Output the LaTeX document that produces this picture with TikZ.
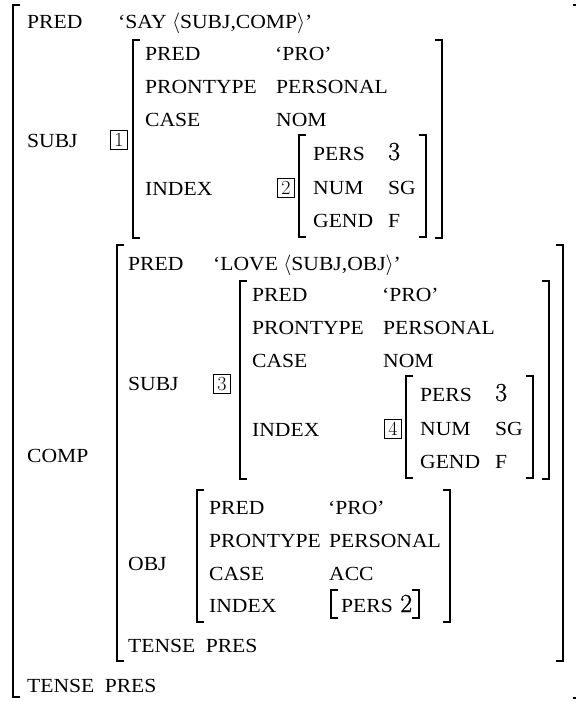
\documentclass[tikz,border=0pt]{standalone}
\usepackage{fontspec}
\newfontfamily\labfont[FakeStretch=1.08]{Liberation Serif}
\newfontfamily\digfont[FakeBold=0.8]{Latin Modern Roman}
\begin{document}
\begin{tikzpicture}[x=1pt,y=-1pt,
  lab/.style={anchor=base west, inner sep=0pt, font=\labfont\fontsize{20}{24}\selectfont},
  dig/.style={anchor=base west, inner sep=0pt, font=\digfont\fontsize{26}{28}\selectfont},
  numbox/.style={draw, line width=0.7pt, inner sep=0pt, minimum width=17pt, minimum height=19pt, font=\fontsize{20}{20}\selectfont},
  brk/.style={line width=1.8pt, line join=miter},
  sbrk/.style={line width=1.2pt, line join=miter}]
\useasboundingbox (0,0) rectangle (576,702);
\newcommand\avmL[4][brk]{\draw[#1] ({#2+7},#3) -- (#2,#3) -- (#2,#4) -- ({#2+7},#4);}
\newcommand\avmR[4][brk]{\draw[#1] ({#2-7},#3) -- (#2,#3) -- (#2,#4) -- ({#2-7},#4);}
% subject block (relative coordinates of the first one)
\newcommand\subjblock[2]{%
  \avmL{133}{40}{238}\avmR{442}{40}{238}
  \node[lab] (#1pred) at (145,60) {PRED};
  \node[lab] (#1predv) at (275,60) {‘PRO’};
  \node[lab] (#1pt) at (145,93) {PRONTYPE};
  \node[lab] (#1ptv) at (276,93) {PERSONAL};
  \node[lab] (#1case) at (145,126) {CASE};
  \node[lab] (#1casev) at (276,126) {NOM};
  \node[lab] (#1index) at (145,195) {INDEX};
  \node[numbox] (#1box) at (286,188) {#2};
  \avmL{299}{135}{237}\avmR{426}{135}{237}
  \node[lab] (#1pers) at (313,160) {PERS};
  \node[dig] (#1persv) at (388,160) {3};
  \node[lab] (#1num) at (313,194) {NUM};
  \node[lab] (#1numv) at (388,194) {SG};
  \node[lab] (#1gend) at (313,227) {GEND};
  \node[lab] (#1gendv) at (388,227) {F};
}
% outer matrix
\avmL{13}{5}{697}\avmR{580}{5}{698}
\node[lab] (opred) at (27,28) {PRED};
\node[lab] (opredv) at (118,28) {‘SAY $\langle$SUBJ,COMP$\rangle$’};
\node[lab] (osubj) at (27,147) {SUBJ};
\node[numbox] (b1) at (119,140) {1};
\subjblock{sa}{2}
\node[lab] (ocomp) at (27,462) {COMP};
% comp matrix
\avmL{117}{245}{661}\avmR{563}{245}{661}
\node[lab] (cpred) at (128,270) {PRED};
\node[lab] (cpredv) at (213,270) {‘LOVE $\langle$SUBJ,OBJ$\rangle$’};
\node[lab] (csubj) at (128,390) {SUBJ};
\node[numbox] (b3) at (222,384) {3};
\begin{scope}[shift={(107,241)}]
\subjblock{sb}{4}
\end{scope}
\node[lab] (cobj) at (128,570) {OBJ};
\avmL{197}{490}{622}\avmR{450}{490}{622}
\node[lab] (opr) at (209,514) {PRED};
\node[lab] (oprv) at (328,514) {‘PRO’};
\node[lab] (opt) at (209,547) {PRONTYPE};
\node[lab] (optv) at (329,547) {PERSONAL};
\node[lab] (oca) at (209,580) {CASE};
\node[lab] (ocav) at (329,580) {ACC};
\node[lab] (oix) at (209,612) {INDEX};
\avmL[sbrk]{331}{590}{618}\avmR[sbrk]{419}{590}{618}
\node[lab] (opers) at (341,612) {PERS};
\node[dig] (opersv) at (400,612) {2};
\node[lab] (ctense) at (128,652) {TENSE};
\node[lab] (ctensev) at ([xshift=10pt]ctense.base east) {PRES};
\node[lab] (otense) at (27,692) {TENSE};
\node[lab] (otensev) at ([xshift=10pt]otense.base east) {PRES};
\end{tikzpicture}
\end{document}
